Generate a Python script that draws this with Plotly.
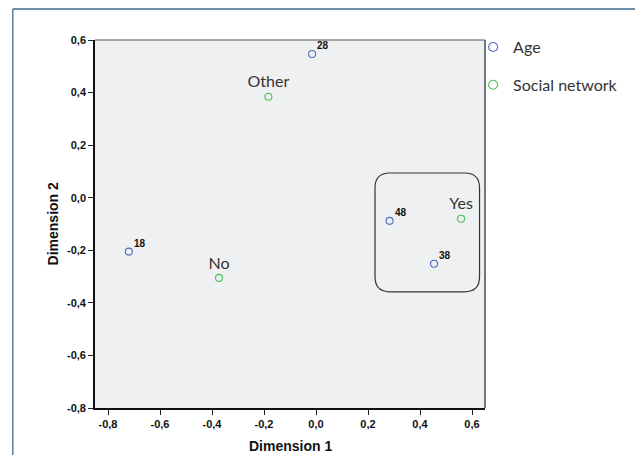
import plotly.graph_objects as go

# Category quantifications (two dimensions)
age_labels = ["18", "28", "38", "48"]
age_dim1 = [-0.720, -0.015, 0.454, 0.283]
age_dim2 = [-0.205, 0.547, -0.251, -0.088]

social_labels = ["No", "Other", "Yes"]
social_dim1 = [-0.373, -0.183, 0.558]
social_dim2 = [-0.305, 0.384, -0.080]

tick_vals_x = [-0.8, -0.6, -0.4, -0.2, 0.0, 0.2, 0.4, 0.6]
tick_text_x = ["-0,8", "-0,6", "-0,4", "-0,2", "0,0", "0,2", "0,4", "0,6"]
tick_vals_y = [-0.8, -0.6, -0.4, -0.2, 0.0, 0.2, 0.4, 0.6]
tick_text_y = ["-0,8", "-0,6", "-0,4", "-0,2", "0,0", "0,2", "0,4", "0,6"]

# Highlighted cluster (rounded box) bounds in data units
box_x = [0.227, 0.629]
box_y = [-0.358, 0.094]
box_r = 0.057

BLUE = "#4a6cc0"
GREEN = "#4cbf5a"
TXT = "Liberation Sans, Arial, sans-serif"
LEG = "Lato, sans-serif"

fig = go.Figure()

# Plotted categories
fig.add_trace(go.Scatter(
    x=age_dim1, y=age_dim2, mode="markers", name="Age", showlegend=False,
    marker=dict(symbol="circle-open", size=7, color=BLUE, line=dict(width=1.1)),
    cliponaxis=False,
))
fig.add_trace(go.Scatter(
    x=social_dim1, y=social_dim2, mode="markers+text", name="Social network",
    showlegend=False, text=social_labels, textposition="top center",
    textfont=dict(family=LEG, size=16, color="#333"),
    marker=dict(symbol="circle-open", size=7, color=GREEN, line=dict(width=1.1)),
    cliponaxis=False,
))

# Legend entries (slightly larger symbols)
fig.add_trace(go.Scatter(
    x=[None], y=[None], mode="markers", name="Age", legendgroup="a",
    marker=dict(symbol="circle-open", size=9, color=BLUE, line=dict(width=1.1)),
))
fig.add_trace(go.Scatter(
    x=[None], y=[None], mode="markers", name="Social network", legendgroup="b",
    marker=dict(symbol="circle-open", size=9, color=GREEN, line=dict(width=1.1)),
))

# Age category labels, up and to the right of each point
for lab, xv, yv in zip(age_labels, age_dim1, age_dim2):
    fig.add_annotation(x=xv, y=yv, text=f"<b>{lab}</b>", showarrow=False,
                       xanchor="left", yanchor="middle", xshift=3, yshift=8,
                       font=dict(family=TXT, size=10, color="#111"))

x0, x1 = box_x
y0, y1 = box_y
r = box_r
path = (f"M {x0 + r},{y1} L {x1 - r},{y1} Q {x1},{y1} {x1},{y1 - r} "
        f"L {x1},{y0 + r} Q {x1},{y0} {x1 - r},{y0} "
        f"L {x0 + r},{y0} Q {x0},{y0} {x0},{y0 + r} "
        f"L {x0},{y1 - r} Q {x0},{y1} {x0 + r},{y1} Z")
fig.add_shape(type="path", path=path, xref="x", yref="y",
              line=dict(color="#333", width=1.2))

# Top and right edges of the plot frame (thinner than the axis lines)
fig.add_shape(type="line", xref="paper", yref="paper", x0=0, x1=1, y0=1, y1=1,
              line=dict(color="#555", width=1))
fig.add_shape(type="line", xref="paper", yref="paper", x0=1, x1=1, y0=0, y1=1,
              line=dict(color="#222", width=1.2))

# Outer frame (top and left edges)
frame = "#3d6a8c"
fig.add_shape(type="line", xref="paper", yref="paper",
              x0=-0.2107, x1=1.4, y0=1.0842, y1=1.0842,
              line=dict(color=frame, width=1.3))
fig.add_shape(type="line", xref="paper", yref="paper",
              x0=-0.2107, x1=-0.2107, y0=1.0842, y1=-0.2,
              line=dict(color=frame, width=1.3))

fig.add_annotation(text="<b>Dimension 1</b>", xref="paper", yref="paper",
                   x=0.5, y=-0.1024, xanchor="center", yanchor="middle",
                   showarrow=False, font=dict(family=TXT, size=14, color="#111"))
fig.add_annotation(text="<b>Dimension 2</b>", xref="paper", yref="paper",
                   x=-0.1066, y=0.5, xanchor="center", yanchor="middle",
                   textangle=-90, showarrow=False,
                   font=dict(family=TXT, size=14, color="#111"))

axis_common = dict(
    showgrid=False, zeroline=False, showline=True, mirror=False,
    linecolor="#111", linewidth=1.6, ticks="outside", ticklen=5,
    tickcolor="#222", tickwidth=1,
    tickfont=dict(family=TXT, size=11, color="#111"),
)

fig.update_layout(
    width=635, height=455,
    margin=dict(l=95, r=146, t=40, b=47),
    paper_bgcolor="white", plot_bgcolor="#eff0f2",
    xaxis=dict(range=[-0.85, 0.65], tickvals=tick_vals_x,
               ticktext=[f"<b>{t}</b>" for t in tick_text_x], **axis_common),
    yaxis=dict(range=[-0.8, 0.6], tickvals=tick_vals_y,
               ticktext=[f"<b>{t}</b>" for t in tick_text_y], **axis_common),
    showlegend=True,
    legend=dict(x=(477 - 95) / 394, y=1.027, xanchor="left", yanchor="top",
                traceorder="grouped", tracegroupgap=14,
                font=dict(family=LEG, size=16, color="#333"),
                bgcolor="rgba(0,0,0,0)"),
)

fig.write_html("out.html")
